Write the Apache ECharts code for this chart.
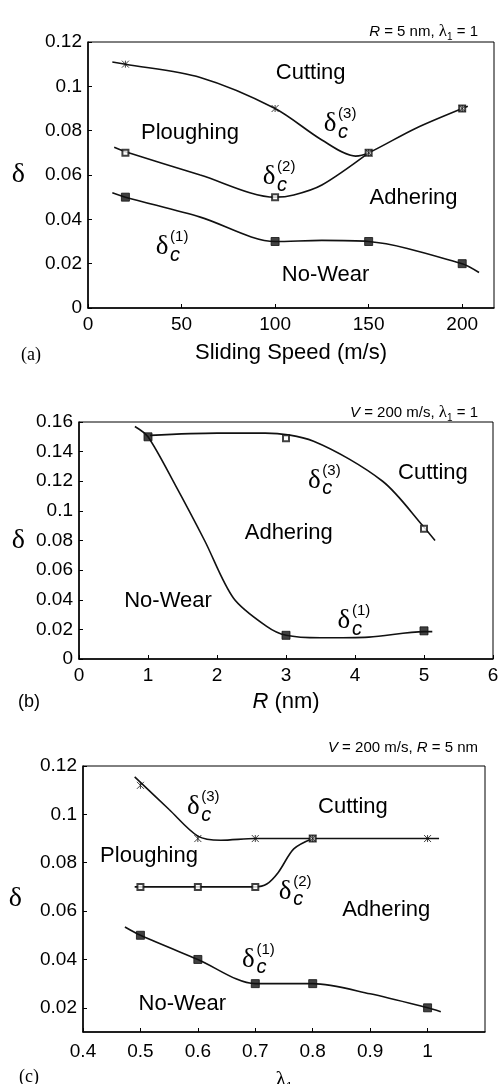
<!DOCTYPE html>
<html>
<head>
<meta charset="utf-8">
<script src="https://cdn.jsdelivr.net/npm/echarts@6/dist/echarts.min.js"></script>
<style>
html, body { margin: 0; background: #fff; }
#chart { width: 499px; height: 1084px; }
</style>
</head>
<body>
<div id="chart"></div>
<script>
// (a) critical interference vs sliding speed
var speedA = [20, 100, 150, 200]
var d1A = [0.05, 0.03, 0.03, 0.02]
var d2A = [0.07, 0.05, 0.07, 0.09]
var d3A = [0.11, 0.09, 0.07, 0.09]
// fitted curves
var fit1A = [[13, 0.052], [20, 0.05], [60, 0.041], [100, 0.03], [125, 0.0305], [150, 0.03], [200, 0.02], [209, 0.016]]
var fit2A = [[14, 0.0725], [20, 0.0705], [60, 0.06], [100, 0.05], [110, 0.051], [125, 0.0555], [150, 0.07]]
var fit3A = [[13, 0.111], [20, 0.11], [60, 0.104], [100, 0.09], [125, 0.0758], [143, 0.0685], [150, 0.07], [175, 0.081], [203, 0.091]]

// (b) vs tip radius
var radiusB = [1, 3, 5]
var d1B = [0.15, 0.016, 0.019]
var d3B = [0.15, 0.149, 0.088]
var fit1B = [[0.81, 0.157], [1, 0.15], [1.4, 0.117], [1.82, 0.08], [2.24, 0.041], [2.72, 0.022], [3, 0.016], [3.5, 0.0143], [4.2, 0.0148], [5, 0.0185], [5.12, 0.0185]]
var fit3B = [[1.03, 0.151], [2, 0.1525], [2.7, 0.1525], [3.4, 0.147], [4.4, 0.12], [5, 0.089], [5.16, 0.08]]

// (c) vs lambda_1
var lambdaC = [0.5, 0.6, 0.7, 0.8, 1.0]
var d1C = [0.05, 0.04, 0.03, 0.03, 0.02]
var lambda2C = [0.5, 0.6, 0.7, 0.8]
var d2C = [0.07, 0.07, 0.07, 0.09]
var d3C = [0.112, 0.09, 0.09, 0.09, 0.09]
var fit1C = [[0.473, 0.0534], [0.5, 0.05], [0.6, 0.04], [0.7, 0.03], [0.8, 0.03], [0.9, 0.0258], [1.0, 0.02], [1.023, 0.0184]]
var fit2C = [[0.49, 0.07], [0.7, 0.07], [0.72, 0.0712], [0.74, 0.076], [0.767, 0.0857], [0.8, 0.09]]
var fit3C = [[0.49, 0.1155], [0.55, 0.102], [0.6, 0.091], [0.64, 0.0893], [0.7, 0.09], [1.02, 0.09]]

// region names and delta_c labels, in data coordinates of each panel
var regionA = [['Cutting', 119, 0.106], ['Ploughing', 54.5, 0.079], ['Adhering', 174, 0.0496], ['No-Wear', 127, 0.0149]]
var deltaA = [['3', 129.4, 0.083], ['2', 96.8, 0.0591], ['1', 39.6, 0.0275]]
var regionB = [['Cutting', 5.13, 0.1258], ['Adhering', 3.04, 0.0849], ['No-Wear', 1.29, 0.039]]
var deltaB = [['3', 3.41, 0.1205], ['1', 3.84, 0.0256]]
var regionC = [['Cutting', 0.87, 0.103], ['Ploughing', 0.515, 0.0828], ['Adhering', 0.928, 0.0605], ['No-Wear', 0.573, 0.0218]]
var deltaC = [['3', 0.592, 0.103], ['2', 0.752, 0.068], ['1', 0.688, 0.04]]

var sans = 'Liberation Sans'
var serif = 'Liberation Serif'
var ink = '#111'
var star = 'path://M0,0L10,10M10,0L0,10M5,0L5,10'

function pairs(xs, ys) {
    return xs.map(function (x, i) { return [x, ys[i]] })
}

function fit(g, data) {
    return {
        type: 'line', xAxisIndex: g, yAxisIndex: g, data: data,
        smooth: 0.3, symbol: 'none', silent: true,
        lineStyle: { color: ink, width: 1.6 }, z: 2
    }
}

function marks(g, xs, ys, sym, size) {
    return {
        type: 'scatter', xAxisIndex: g, yAxisIndex: g, data: pairs(xs, ys),
        symbol: sym, symbolSize: size, silent: true,
        itemStyle: { color: ink, borderColor: ink, borderWidth: 1 }, z: 3
    }
}

function xAxis(g, min, max, interval, name, gap, margin, rich) {
    return {
        gridIndex: g, type: 'value', min: min, max: max, interval: interval,
        axisLine: { onZero: false, lineStyle: { color: '#000', width: 1.5 } },
        axisTick: { inside: true, length: 4, lineStyle: { color: '#000' } },
        splitLine: { show: false },
        axisLabel: { color: '#000', fontSize: 19, fontFamily: sans, margin: margin, showMaxLabel: max % interval == 0 ? null : false },
        name: name, nameLocation: 'middle', nameGap: gap,
        nameTextStyle: { color: '#000', fontSize: 22, fontFamily: sans, rich: rich }
    }
}

function yAxis(g, min, max, interval, gap, pad) {
    return {
        gridIndex: g, type: 'value', min: min, max: max, interval: interval,
        axisLine: { onZero: false, lineStyle: { color: '#000', width: 1.5 } },
        axisTick: { inside: true, length: 4, lineStyle: { color: '#000' } },
        splitLine: { show: false },
        axisLabel: { color: '#000', fontSize: 19, fontFamily: sans, margin: 6, showMinLabel: g == 2 ? false : null },
        name: 'δ', nameLocation: 'middle', nameRotate: 0, nameGap: gap,
        nameTextStyle: { color: '#000', fontSize: 28, fontFamily: serif, padding: pad }
    }
}

var titleRich = {
    i: { fontStyle: 'italic', fontSize: 15, fontFamily: sans, lineHeight: 20 },
    l: { fontSize: 17, fontFamily: serif, lineHeight: 20 },
    s: { fontSize: 10, fontFamily: sans, lineHeight: 12, verticalAlign: 'bottom' }
}

function title(text, top) {
    return {
        text: text, right: 16, top: top,
        textStyle: { color: '#000', fontSize: 15, fontWeight: 'normal', fontFamily: sans, lineHeight: 20, rich: titleRich }
    }
}

function grid(left, top, width, height) {
    return { left: left, top: top, width: width, height: height, outerBoundsMode: 'none',
             show: true, borderColor: '#000', borderWidth: 1 }
}

var chart = echarts.init(document.getElementById('chart'))

var option = {
    animation: false,
    backgroundColor: '#fff',
    title: [
        title('{i|R} = 5 nm, {l|λ}{s|1} = 1', 17),
        title('{i|V} = 200 m/s, {l|λ}{s|1} = 1', 398),
        title('{i|V} = 200 m/s, {i|R} = 5 nm', 733)
    ],
    grid: [
        grid(88, 42, 406, 266),
        grid(79, 422, 414, 237),
        grid(83, 766, 402, 266)
    ],
    xAxis: [
        xAxis(0, 0, 217, 50, 'Sliding Speed (m/s)', 34, 7),
        xAxis(1, 0, 6, 1, '{i|R} (nm)', 32, 7, { i: { fontStyle: 'italic', fontSize: 22, fontFamily: sans } }),
        xAxis(2, 0.4, 1.1, 0.1, '{l|λ}{s|1}', 36, 10, {
            l: { fontSize: 22, fontFamily: serif, lineHeight: 24 },
            s: { fontSize: 11, fontFamily: sans, lineHeight: 12, verticalAlign: 'bottom' }
        })
    ],
    yAxis: [
        yAxis(0, 0, 0.12, 0.02, 63, 0),
        yAxis(1, 0, 0.16, 0.02, 54, 0),
        yAxis(2, 0.01, 0.12, null, 61, [0, 0, 26, 0])
    ],
    series: [
        fit(0, fit1A), fit(0, fit2A), fit(0, fit3A),
        marks(0, speedA, d1A, 'rect', 8),
        marks(0, speedA, d2A, 'emptyRect', 6),
        marks(0, speedA, d3A, star, 7),
        fit(1, fit1B), fit(1, fit3B),
        marks(1, radiusB.slice(1), d3B.slice(1), 'emptyRect', 6),
        marks(1, radiusB, d1B, 'rect', 8),
        fit(2, fit1C), fit(2, fit2C), fit(2, fit3C),
        marks(2, lambdaC, d1C, 'rect', 8),
        marks(2, lambda2C, d2C, 'emptyRect', 6),
        marks(2, lambdaC, d3C, star, 7)
    ]
}

chart.setOption(option)

// text annotations placed through the axes
function txt(x, y, text, font, align) {
    return {
        type: 'text', x: x, y: y, silent: true,
        style: { text: text, font: font, fill: '#000', align: align || 'center', verticalAlign: 'middle',
                 textAlign: align || 'center', textVerticalAlign: 'middle' }
    }
}

var graphic = []
;[regionA, regionB, regionC].forEach(function (list, g) {
    list.forEach(function (r) {
        var p = chart.convertToPixel({ gridIndex: g }, [r[1], r[2]])
        graphic.push(txt(p[0], p[1], r[0], '22px "' + sans + '"'))
    })
})
;[deltaA, deltaB, deltaC].forEach(function (list, g) {
    list.forEach(function (d) {
        var p = chart.convertToPixel({ gridIndex: g }, [d[1], d[2]])
        graphic.push(txt(p[0], p[1], 'δ', '27px "' + serif + '"'))
        graphic.push(txt(p[0] + 8, p[1] + 8, 'c', 'italic 20px "' + sans + '"', 'left'))
        graphic.push(txt(p[0] + 8, p[1] - 10, '(' + d[0] + ')', '15px "' + sans + '"', 'left'))
    })
})
graphic.push(txt(31, 355, '(a)', '18px "' + serif + '"'))
graphic.push(txt(29, 702, '(b)', '18px "' + sans + '"'))
graphic.push(txt(29, 1077, '(c)', '18px "' + serif + '"'))

chart.setOption({ graphic: graphic })
</script>
</body>
</html>
